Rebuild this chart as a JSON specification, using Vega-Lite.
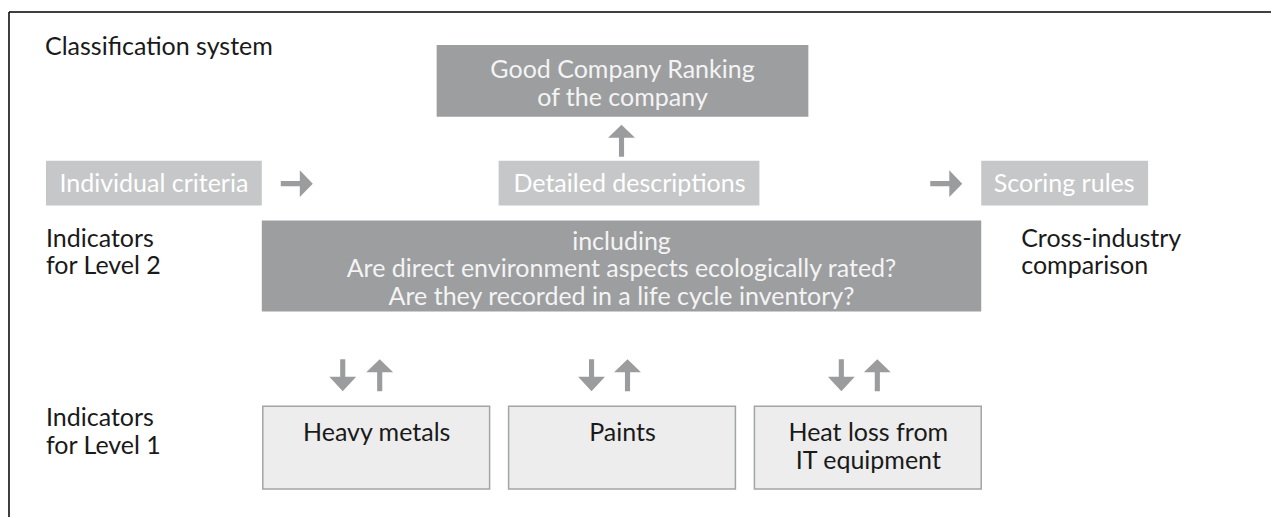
{
  "$schema": "https://vega.github.io/schema/vega-lite/v6.json",
  "autosize": {"type": "fit", "contains": "padding"},
  "width": 1272,
  "height": 518,
  "padding": 0,
  "background": "white",
  "config": {"view": {"stroke": null}, "text": {"font": "Lato", "fontSize": 25}},
  "datasets": {
    "frame": [
      {"x1": 9, "x2": 1272, "y1": 12, "y2": 12},
      {"x1": 9, "x2": 9, "y1": 12, "y2": 518}
    ],
    "boxes": [
      {"name": "Good Company Ranking", "kind": "dark", "x1": 437, "x2": 809, "y1": 45, "y2": 117},
      {"name": "including", "kind": "dark", "x1": 262, "x2": 982, "y1": 221, "y2": 312},
      {"name": "Individual criteria", "kind": "light", "x1": 46, "x2": 262, "y1": 161, "y2": 206},
      {"name": "Detailed descriptions", "kind": "light", "x1": 499, "x2": 760, "y1": 161, "y2": 206},
      {"name": "Scoring rules", "kind": "light", "x1": 982, "x2": 1149, "y1": 161, "y2": 206},
      {"name": "Heavy metals", "kind": "pale", "x1": 263, "x2": 490, "y1": 407, "y2": 490},
      {"name": "Paints", "kind": "pale", "x1": 509, "x2": 736, "y1": 407, "y2": 490},
      {"name": "Heat loss", "kind": "pale", "x1": 755, "x2": 982, "y1": 407, "y2": 490}
    ],
    "arrows": [
      {"dir": "right", "x": 297, "y": 184},
      {"dir": "right", "x": 947, "y": 184},
      {"dir": "up", "x": 622, "y": 141},
      {"dir": "down", "x": 343, "y": 376},
      {"dir": "up", "x": 380, "y": 376},
      {"dir": "down", "x": 592, "y": 376},
      {"dir": "up", "x": 628, "y": 376},
      {"dir": "down", "x": 842, "y": 376},
      {"dir": "up", "x": 878, "y": 376}
    ],
    "labels": [
      {"style": "black-left", "text": "Classification system", "x": 45, "y": 55},
      {"style": "black-left", "text": "Indicators", "x": 46, "y": 247},
      {"style": "black-left", "text": "for Level 2", "x": 46, "y": 275},
      {"style": "black-left", "text": "Cross-industry", "x": 1022, "y": 247},
      {"style": "black-left", "text": "comparison", "x": 1022, "y": 275},
      {"style": "black-left", "text": "Indicators", "x": 46, "y": 427},
      {"style": "black-left", "text": "for Level 1", "x": 46, "y": 455},
      {"style": "dark-box", "text": "Good Company Ranking", "x": 623, "y": 78},
      {"style": "dark-box", "text": "of the company", "x": 623, "y": 106},
      {"style": "dark-box", "text": "including", "x": 622, "y": 250},
      {"style": "dark-box", "text": "Are direct environment aspects ecologically rated?", "x": 622, "y": 278},
      {"style": "dark-box", "text": "Are they recorded in a life cycle inventory?", "x": 622, "y": 306},
      {"style": "light-box", "text": "Individual criteria", "x": 154, "y": 192},
      {"style": "light-box", "text": "Detailed descriptions", "x": 630, "y": 192},
      {"style": "light-box", "text": "Scoring rules", "x": 1065, "y": 192},
      {"style": "black-center", "text": "Heavy metals", "x": 377, "y": 442},
      {"style": "black-center", "text": "Paints", "x": 623, "y": 442},
      {"style": "black-center", "text": "Heat loss from", "x": 869, "y": 442},
      {"style": "black-center", "text": "IT equipment", "x": 869, "y": 470}
    ]
  },
  "layer": [
    {
      "data": {"name": "frame"},
      "mark": {"type": "rule", "color": "#000000", "strokeWidth": 1.5},
      "encoding": {
        "x": {"field": "x1", "type": "quantitative", "scale": {"domain": [0, 1272], "nice": false, "zero": false}, "axis": null},
        "x2": {"field": "x2"},
        "y": {"field": "y1", "type": "quantitative", "scale": {"domain": [0, 518], "reverse": true, "nice": false, "zero": false}, "axis": null},
        "y2": {"field": "y2"}
      }
    },
    {
      "data": {"name": "boxes"},
      "transform": [{"filter": "datum.kind === 'dark'"}],
      "mark": {"type": "rect", "color": "#9d9ea0"},
      "encoding": {
        "x": {"field": "x1", "type": "quantitative"},
        "x2": {"field": "x2"},
        "y": {"field": "y1", "type": "quantitative"},
        "y2": {"field": "y2"}
      }
    },
    {
      "data": {"name": "boxes"},
      "transform": [{"filter": "datum.kind === 'light'"}],
      "mark": {"type": "rect", "color": "#c6c7c8"},
      "encoding": {
        "x": {"field": "x1", "type": "quantitative"},
        "x2": {"field": "x2"},
        "y": {"field": "y1", "type": "quantitative"},
        "y2": {"field": "y2"}
      }
    },
    {
      "data": {"name": "boxes"},
      "transform": [{"filter": "datum.kind === 'pale'"}],
      "mark": {"type": "rect", "fill": "#ecedec", "stroke": "#a3a4a4", "strokeWidth": 1.5},
      "encoding": {
        "x": {"field": "x1", "type": "quantitative"},
        "x2": {"field": "x2"},
        "y": {"field": "y1", "type": "quantitative"},
        "y2": {"field": "y2"}
      }
    },
    {
      "data": {"name": "arrows"},
      "transform": [{"filter": "datum.dir === 'up'"}],
      "mark": {"type": "point", "filled": true, "opacity": 1, "strokeWidth": 0, "color": "#9b9c9e", "size": 1024,
        "shape": "M0,-1L0.84,-0.19L0.16,-0.19L0.16,1L-0.16,1L-0.16,-0.19L-0.84,-0.19Z"},
      "encoding": {
        "x": {"field": "x", "type": "quantitative"},
        "y": {"field": "y", "type": "quantitative"}
      }
    },
    {
      "data": {"name": "arrows"},
      "transform": [{"filter": "datum.dir === 'down'"}],
      "mark": {"type": "point", "filled": true, "opacity": 1, "strokeWidth": 0, "color": "#9b9c9e", "size": 1024,
        "shape": "M0,1L0.84,0.1L0.16,0.1L0.16,-1L-0.16,-1L-0.16,0.1L-0.84,0.1Z"},
      "encoding": {
        "x": {"field": "x", "type": "quantitative"},
        "y": {"field": "y", "type": "quantitative"}
      }
    },
    {
      "data": {"name": "arrows"},
      "transform": [{"filter": "datum.dir === 'right'"}],
      "mark": {"type": "point", "filled": true, "opacity": 1, "strokeWidth": 0, "color": "#9b9c9e", "size": 1024,
        "shape": "M1,0L0.19,0.84L0.19,0.16L-1,0.16L-1,-0.16L0.19,-0.16L0.19,-0.84Z"},
      "encoding": {
        "x": {"field": "x", "type": "quantitative"},
        "y": {"field": "y", "type": "quantitative"}
      }
    },
    {
      "data": {"name": "labels"},
      "transform": [{"filter": "datum.style === 'black-left'"}],
      "mark": {"type": "text", "align": "left", "baseline": "alphabetic", "color": "#1a1a1a"},
      "encoding": {
        "x": {"field": "x", "type": "quantitative"},
        "y": {"field": "y", "type": "quantitative"},
        "text": {"field": "text"}
      }
    },
    {
      "data": {"name": "labels"},
      "transform": [{"filter": "datum.style === 'black-center'"}],
      "mark": {"type": "text", "align": "center", "baseline": "alphabetic", "color": "#1a1a1a"},
      "encoding": {
        "x": {"field": "x", "type": "quantitative"},
        "y": {"field": "y", "type": "quantitative"},
        "text": {"field": "text"}
      }
    },
    {
      "data": {"name": "labels"},
      "transform": [{"filter": "datum.style === 'dark-box'"}],
      "mark": {"type": "text", "align": "center", "baseline": "alphabetic", "color": "#f4f4f4"},
      "encoding": {
        "x": {"field": "x", "type": "quantitative"},
        "y": {"field": "y", "type": "quantitative"},
        "text": {"field": "text"}
      }
    },
    {
      "data": {"name": "labels"},
      "transform": [{"filter": "datum.style === 'light-box'"}],
      "mark": {"type": "text", "align": "center", "baseline": "alphabetic", "color": "#ffffff"},
      "encoding": {
        "x": {"field": "x", "type": "quantitative"},
        "y": {"field": "y", "type": "quantitative"},
        "text": {"field": "text"}
      }
    }
  ]
}
